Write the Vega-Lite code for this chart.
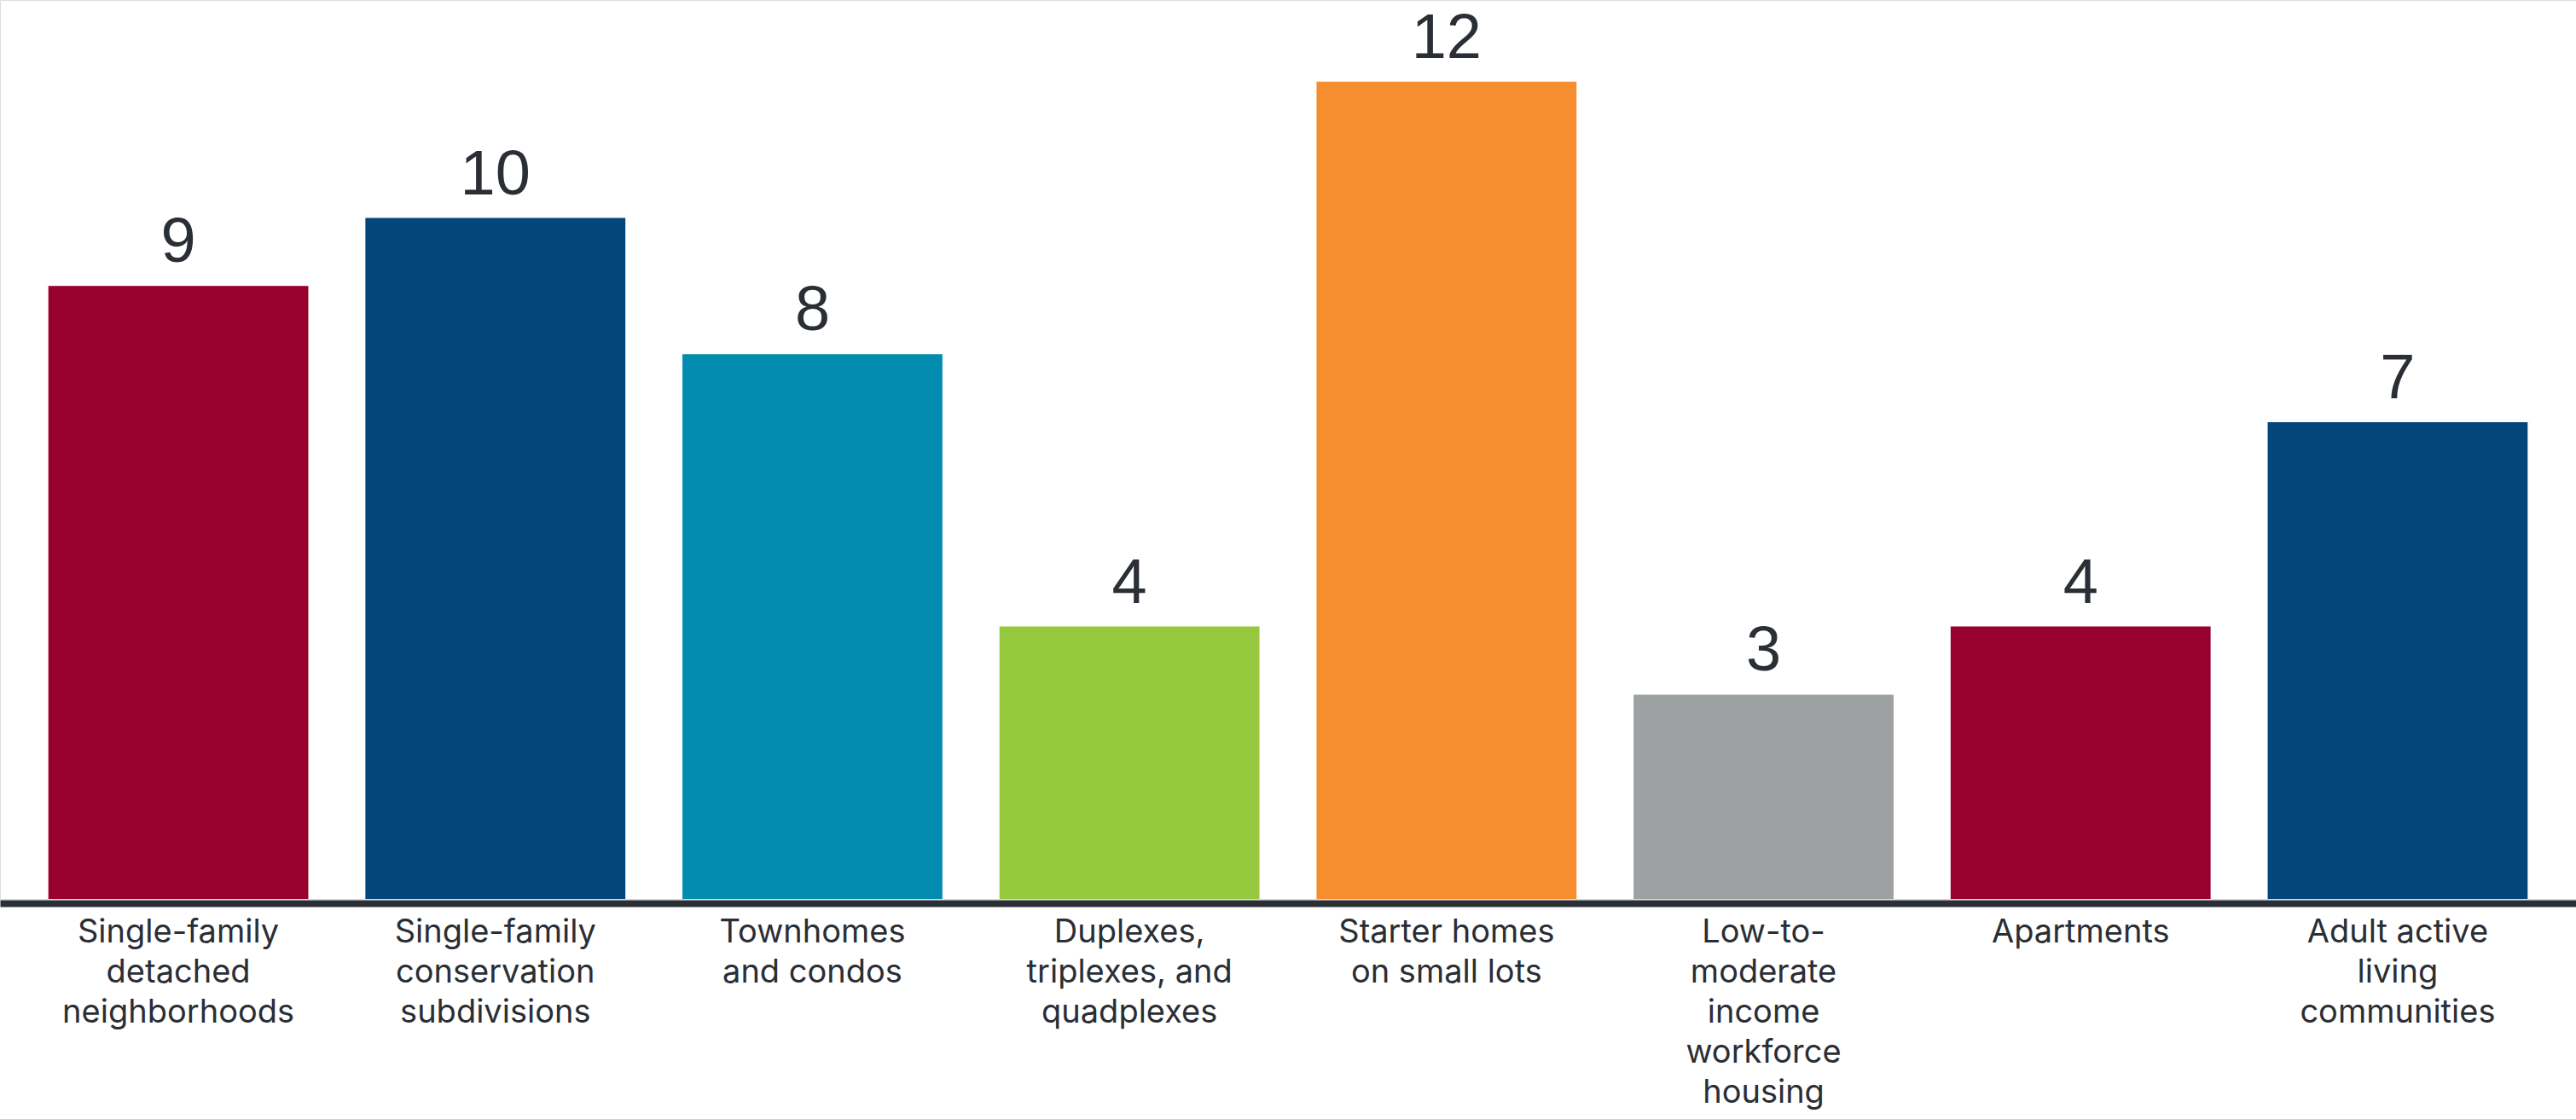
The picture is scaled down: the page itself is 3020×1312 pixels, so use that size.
{
  "$schema": "https://vega.github.io/schema/vega-lite/v6.json",
  "autosize": {"type": "none"},
  "width": 3020,
  "height": 1054,
  "padding": {"left": 0, "right": 0, "top": 0, "bottom": 258},
  "background": "#ffffff",
  "data": {
    "values": [
      {"category": "Single-family|detached|neighborhoods", "value": 9, "color": "c1"},
      {"category": "Single-family|conservation|subdivisions", "value": 10, "color": "c2"},
      {"category": "Townhomes|and condos", "value": 8, "color": "c3"},
      {"category": "Duplexes,|triplexes, and|quadplexes", "value": 4, "color": "c4"},
      {"category": "Starter homes|on small lots", "value": 12, "color": "c5"},
      {"category": "Low-to-|moderate|income|workforce|housing", "value": 3, "color": "c6"},
      {"category": "Apartments", "value": 4, "color": "c1"},
      {"category": "Adult active|living|communities", "value": 7, "color": "c2"}
    ]
  },
  "encoding": {
    "x": {
      "field": "category",
      "type": "nominal",
      "sort": null,
      "scale": {"paddingInner": 0.18, "paddingOuter": 0.1525},
      "axis": {
        "title": null,
        "labelAngle": 0,
        "labelExpr": "split(datum.label, '|')",
        "labelFont": "Inter",
        "labelFontWeight": 400,
        "labelFontSize": 38,
        "labelLineHeight": 47,
        "labelColor": "#2a2e35",
        "labelLimit": 0,
        "labelPadding": 15,
        "ticks": false,
        "tickSize": 0,
        "domainColor": "#2a2e35",
        "domainWidth": 8,
        "offset": 5,
        "grid": false
      }
    },
    "y": {
      "field": "value",
      "type": "quantitative",
      "scale": {"domain": [0, 13.2], "nice": false},
      "axis": null
    }
  },
  "layer": [
    {
      "mark": {"type": "bar"},
      "encoding": {
        "color": {
          "field": "color",
          "type": "nominal",
          "scale": {
            "domain": ["c1", "c2", "c3", "c4", "c5", "c6"],
            "range": ["#98002e", "#02467b", "#028cb0", "#96c93d", "#f68d2e", "#9da1a1"]
          },
          "legend": null
        }
      }
    },
    {
      "mark": {"type": "text", "baseline": "alphabetic", "dy": -28, "font": "Liberation Sans", "fontSize": 74, "color": "#2a2e35"},
      "encoding": {
        "text": {"field": "value", "type": "quantitative"}
      }
    }
  ]
}
